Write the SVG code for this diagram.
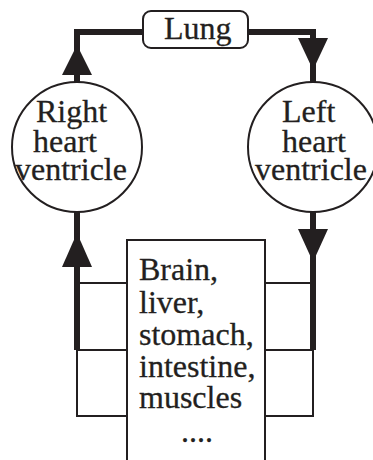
<svg xmlns="http://www.w3.org/2000/svg" width="373" height="460" viewBox="0 0 373 460">
<style>
.t{font-family:"Liberation Serif","Times New Roman",serif;font-size:32px;fill:#231f20;stroke:#231f20;stroke-width:0.3}
.node{fill:#fff;stroke:#231f20;stroke-width:2}
.thick{fill:none;stroke:#231f20;stroke-width:6}
.thin{fill:none;stroke:#231f20;stroke-width:2}
.head{fill:#231f20}
</style>
<rect width="373" height="460" fill="#fff"/>
<g id="connectors">
<polyline class="thick" points="143,32 77,32 77,82"/>
<polyline class="thick" points="248,32 313,32 313,82"/>
<polygon class="head" points="77,45 62,75 92,75"/>
<polygon class="head" points="298,38 328,38 313,70"/>
<line class="thick" x1="77" y1="212" x2="77" y2="350"/>
<line class="thick" x1="313" y1="212" x2="313" y2="350"/>
<polygon class="head" points="77,233 62,267 92,267"/>
<polygon class="head" points="298,229 328,229 313,262"/>
<polyline class="thin" points="127,283 77,283"/>
<polyline class="thin" points="127,350 77,350 77,416 127,416"/>
<polyline class="thin" points="265,283 313,283"/>
<polyline class="thin" points="265,350 313,350 313,416 265,416"/>
</g>
<g id="lung">
<rect class="node" x="143" y="11" width="105" height="37" rx="8"/>
<text class="t" x="164" y="39">Lung</text>
</g>
<g id="right-ventricle">
<circle class="node" cx="77" cy="147" r="65"/>
<text class="t" x="36" y="122">Right</text>
<text class="t" x="33" y="152">heart</text>
<text class="t" x="15" y="180">ventricle</text>
</g>
<g id="left-ventricle">
<circle class="node" cx="313" cy="147" r="65"/>
<text class="t" x="282" y="122">Left</text>
<text class="t" x="282" y="152">heart</text>
<text class="t" x="255" y="180">ventricle</text>
</g>
<g id="organs">
<rect class="node" x="127" y="240" width="138" height="230"/>
<text class="t" x="139" y="280">Brain,</text>
<text class="t" x="139" y="313">liver,</text>
<text class="t" x="139" y="345">stomach,</text>
<text class="t" x="139" y="377">intestine,</text>
<text class="t" x="139" y="408">muscles</text>
<text class="t" x="181" y="442">....</text>
</g>
</svg>
